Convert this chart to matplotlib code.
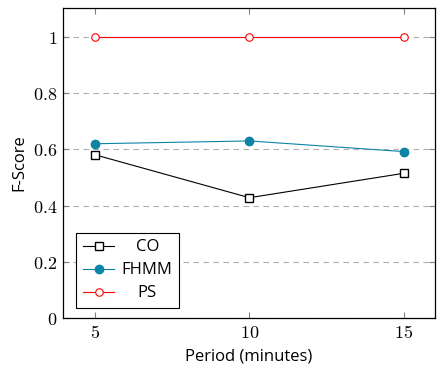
import matplotlib
matplotlib.use("Agg")
import matplotlib.pyplot as plt
from matplotlib.ticker import FuncFormatter

# data
periods = [5, 10, 15]
co = [0.581, 0.428, 0.515]
fhmm = [0.620, 0.630, 0.592]
ps = [1.0, 1.0, 1.0]
y_ticks = [0, 0.2, 0.4, 0.6, 0.8, 1.0]

plt.rcParams["mathtext.fontset"] = "cm"
plt.rcParams["font.family"] = ["Open Sans", "DejaVu Sans"]

fig = plt.figure(figsize=(4.42, 3.73), dpi=100)
ax = fig.add_axes([0.1425, 0.1475, 0.8415, 0.831])

teal = "#0b84a5"
ax.plot(periods, co, color="black", lw=0.8, marker="s", ms=5.2,
        mfc="white", mec="black", mew=1.0, label="CO", zorder=3)
ax.plot(periods, fhmm, color=teal, lw=0.8, marker="o", ms=6.0,
        mfc=teal, mec=teal, label="FHMM", zorder=3)
ax.plot(periods, ps, color="red", lw=0.8, marker="o", ms=5.4,
        mfc="white", mec="red", mew=0.8, label="PS", zorder=3)

ax.set_xlim(3.97, 16.0)
ax.set_ylim(0, 1.103)
ax.set_xticks(periods)
ax.set_yticks(y_ticks)
ax.xaxis.set_major_formatter(FuncFormatter(lambda v, p: r"$%g$" % v))
ax.yaxis.set_major_formatter(FuncFormatter(lambda v, p: r"$%g$" % v))
ax.tick_params(axis="both", direction="in", length=4, width=0.8,
               color="#808080", labelsize=13, top=True, right=True, pad=4)
ax.yaxis.grid(True, linestyle=(0, (5, 4)), color="#b0b0b0", lw=0.8)
for s in ax.spines.values():
    s.set_linewidth(0.9)

ax.set_xlabel("Period (minutes)", fontsize=12, labelpad=5)
ax.set_ylabel("F-Score", fontsize=12, labelpad=4)

leg = ax.legend(loc="lower left", bbox_to_anchor=(0.035, 0.032), fontsize=12,
                fancybox=False, edgecolor="black", framealpha=1,
                borderaxespad=0, handlelength=1.9, handletextpad=0.45,
                borderpad=0.4, labelspacing=0.42)
leg.get_frame().set_linewidth(0.8)

# centre the legend labels in their column, as pgfplots does
renderer = fig.canvas.get_renderer()
texts = leg.get_texts()
widths = [t.get_window_extent(renderer).width for t in texts]
maxw = max(widths)
for t, w in zip(texts, widths):
    t.set_x((maxw - w) / 2)

fig.savefig("out.png", dpi=100)
